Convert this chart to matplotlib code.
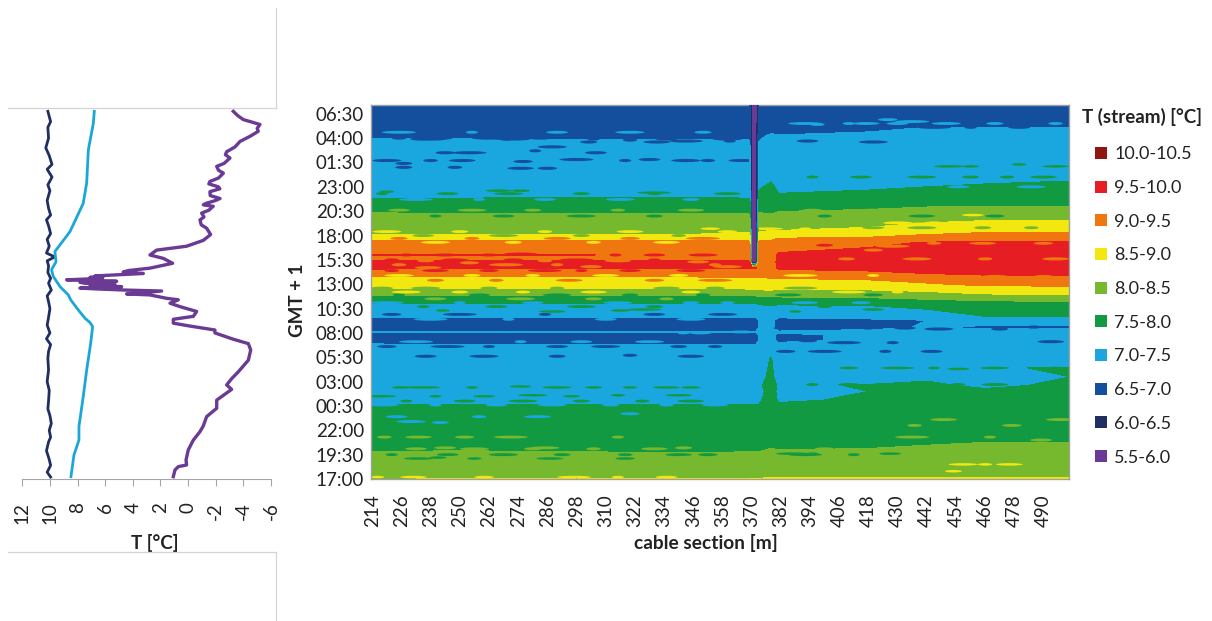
import numpy as np
import matplotlib
matplotlib.use('Agg')
import matplotlib.pyplot as plt
from matplotlib.lines import Line2D
from matplotlib.patches import Ellipse, Patch

plt.rcParams['font.family'] = ['Lato', 'DejaVu Sans']

W, H = 1212, 621

# hours after 17:00 on the first day
time_labels = ['17:00', '19:30', '22:00', '00:30', '03:00', '05:30', '08:00', '10:30',
               '13:00', '15:30', '18:00', '20:30', '23:00', '01:30', '04:00', '06:30']
time_ticks = [2.5 * i for i in range(len(time_labels))]
section_ticks = list(range(214, 491, 12))
temp_ticks = [12, 10, 8, 6, 4, 2, 0, -2, -4, -6]
temp_labels = ['12', '10', '8', '6', '4', '2', '0', '-2', '-4', '-6']

# left panel, three temperature series
air_h = [0.24, 0.92, 1.27, 1.44, 1.95, 2.98, 4.0, 4.86, 5.45, 6.4, 7.26, 8.1, 9.2, 9.66, 10.3, 11.0,
         12.2, 13.25, 13.9, 14.35, 15.0, 15.3, 15.7, 16.0, 16.4, 16.7, 17.2, 17.7, 18.05, 18.4, 18.55,
         18.9, 19.0, 19.3, 19.4, 19.5, 19.6, 19.75, 19.85, 19.9, 20.0, 20.1, 20.2, 20.3, 20.4, 20.45,
         20.6, 20.7, 20.8, 20.85, 21.1, 21.25, 21.4, 21.65, 22.15, 22.65, 23.0, 23.5, 23.9, 24.5, 25.1,
         25.75, 26.1, 26.6, 26.9, 27.3, 27.6, 28.0, 28.15, 28.3, 28.6, 28.8, 29.1, 29.5, 29.8, 30.0,
         30.3, 30.55, 30.9, 31.4, 31.7, 32.1, 32.4, 32.95, 33.3, 33.6, 34.1, 34.65, 35.2, 35.7, 36.0,
         36.4, 36.9, 37.3, 37.75]
air_T = [1.07, 0.95, 0.71, 0.11, 0.15, -0.01, -0.38, -0.86, -1.1, -1.34, -2.07, -2.07, -3.15, -2.79,
         -3.15, -3.63, -4.36, -4.53, -4.36, -3.27, -1.94, -1.94, -0.14, 1.07, 1.07, -0.38, -0.62, 0.59,
         1.31, 0.71, 1.55, 2.76, 4.45, 1.92, 4.57, 6.38, 7.83, 4.81, 6.5, 7.1, 5.3, 7.5, 7.83, 5.17, 7.2,
         8.79, 6.2, 7.1, 6.14, 6.74, 3.24, 4.7, 4.33, 2.76, 1.12, 1.79, 2.76, 2.28, 0.11, -1.1, -1.63,
         -1.34, -0.95, -0.86, -1.15, -0.98, -1.5, -1.82, -1.1, -1.3, -2.0, -2.31, -1.6, -1.58, -2.3, -2.19,
         -1.5, -1.58, -2.2, -2.55, -2.2, -2.07, -2.6, -3.03, -2.7, -2.79, -3.4, -3.75, -4.5, -5.08, -5.0,
         -5.2, -4.0, -3.6, -3.27]

soil_h = [0.24, 2.47, 4.0, 5.38, 8.46, 11.2, 13.94, 15.65, 16.06, 16.5, 17.36, 18.4, 18.9, 19.75, 20.8,
          21.5, 22.3, 23.35, 25.4, 28.3, 30.4, 33.8, 36.5, 37.75]
soil_T = [8.48, 8.26, 7.9, 7.9, 7.59, 7.34, 7.05, 6.91, 7.1, 7.46, 7.95, 8.5, 8.67, 9.27, 9.76, 9.88,
          9.56, 9.64, 8.55, 7.59, 7.34, 7.22, 6.86, 6.79]

ground_h = [0.2, 0.7, 1.4, 2.0, 2.9, 3.8, 4.3, 5.0, 5.7, 6.5, 7.2, 8.0, 9.1, 10.0, 11.2, 12.4, 13.1, 13.8,
            14.4, 15.0, 15.8, 16.6, 17.5, 18.2, 18.8, 19.4, 20.1, 20.6, 21.2, 21.9, 22.4, 22.8, 23.2,
            23.9, 24.6, 25.2, 26.0, 26.6, 27.1, 27.8, 28.6, 29.6, 30.2, 31.0, 31.8, 32.3, 33.2, 34.0,
            35.0, 36.1, 36.7, 37.75]
ground_T = [9.95, 10.2, 9.95, 10.05, 10.25, 10.1, 9.95, 10.05, 9.9, 10.0, 10.15, 10.1, 10.05, 10.2, 10.1,
            10.15, 10.1, 9.95, 10.25, 10.0, 10.2, 10.1, 10.0, 10.1, 10.2, 9.9, 10.1, 9.95, 10.15, 10.1,
            10.2, 9.65, 10.25, 10.05, 10.2, 9.95, 10.1, 10.25, 9.95, 10.1, 10.2, 10.0, 10.15, 9.85, 10.2,
            9.85, 10.05, 10.3, 10.1, 10.15, 9.95, 10.15]

# stream temperature, one row per hour value, one column per cable position
cable_m = [214, 250, 298, 346, 369.3, 373, 378, 381, 418, 442, 466, 501]
row_h = [0.0, 0.3, 1.0, 2.0, 2.7, 3.3, 4.5, 6.0, 7.6, 8.1, 9.0, 9.6, 10.5, 11.4, 12.3, 13.0, 13.7, 14.2,
         14.8, 15.1, 15.5, 16.3, 16.7, 17.8, 18.3, 19.0, 19.5, 20.0, 20.6, 21.1, 21.7, 22.3, 22.7, 23.0,
         23.5, 24.3, 24.7, 25.2, 26.0, 27.2, 28.0, 29.0, 30.0, 31.5, 33.0, 34.5, 35.2, 36.3, 37.0, 38.4]
stream_T = [
    [8.45, 8.55, 8.5, 8.55, 8.55, 8.55, 8.6, 8.6, 8.6, 8.6, 8.6, 8.6],
    [8.35, 8.35, 8.3, 8.35, 8.35, 8.35, 8.4, 8.35, 8.35, 8.35, 8.35, 8.35],
    [8.3, 8.25, 8.2, 8.2, 8.2, 8.2, 8.25, 8.2, 8.25, 8.3, 8.3, 8.3],
    [8.15, 8.1, 8.1, 8.1, 8.1, 8.1, 8.15, 8.1, 8.15, 8.2, 8.2, 8.2],
    [8.02, 8.05, 8.02, 8.0, 8.02, 8.02, 8.15, 8.05, 8.05, 8.1, 8.1, 8.1],
    [7.92, 7.9, 7.9, 7.88, 7.9, 7.9, 7.95, 7.95, 7.98, 8.02, 8.05, 8.05],
    [7.78, 7.75, 7.72, 7.72, 7.75, 7.8, 7.95, 7.78, 7.8, 7.88, 7.92, 7.9],
    [7.6, 7.58, 7.6, 7.6, 7.62, 7.65, 7.8, 7.62, 7.65, 7.7, 7.72, 7.72],
    [7.52, 7.52, 7.52, 7.52, 7.52, 7.52, 7.75, 7.55, 7.58, 7.6, 7.62, 7.65],
    [7.42, 7.42, 7.42, 7.42, 7.42, 7.42, 7.75, 7.45, 7.55, 7.58, 7.6, 7.6],
    [7.35, 7.38, 7.4, 7.4, 7.35, 7.38, 7.65, 7.42, 7.5, 7.55, 7.52, 7.58],
    [7.42, 7.42, 7.42, 7.42, 7.42, 7.42, 7.7, 7.45, 7.52, 7.52, 7.48, 7.52],
    [7.25, 7.25, 7.25, 7.25, 7.25, 7.28, 7.65, 7.25, 7.35, 7.48, 7.5, 7.5],
    [7.2, 7.2, 7.2, 7.2, 7.2, 7.22, 7.6, 7.2, 7.28, 7.42, 7.48, 7.52],
    [7.1, 7.1, 7.1, 7.1, 7.1, 7.12, 7.55, 7.12, 7.2, 7.25, 7.28, 7.3],
    [7.02, 7.02, 7.02, 7.02, 7.02, 7.1, 7.3, 7.04, 7.15, 7.2, 7.2, 7.2],
    [7.05, 7.05, 7.05, 7.05, 7.05, 7.1, 7.15, 7.1, 7.15, 7.15, 7.15, 7.15],
    [6.9, 6.85, 6.85, 6.88, 6.85, 7.05, 7.1, 6.95, 7.05, 7.1, 7.1, 7.1],
    [6.9, 6.88, 6.85, 6.9, 6.88, 7.05, 7.1, 6.95, 7.05, 7.1, 7.1, 7.1],
    [7.02, 7.03, 7.02, 7.03, 7.03, 7.05, 7.1, 7.03, 7.08, 7.1, 7.1, 7.1],
    [6.85, 6.85, 6.85, 6.85, 6.85, 7.05, 7.1, 6.9, 6.95, 7.02, 6.97, 6.97],
    [6.85, 6.85, 6.85, 6.85, 6.85, 7.05, 7.1, 6.85, 6.9, 7.0, 7.05, 7.05],
    [7.05, 7.05, 7.05, 7.05, 7.05, 7.15, 7.2, 7.1, 7.2, 7.3, 7.5, 7.55],
    [7.4, 7.4, 7.4, 7.4, 7.4, 7.45, 7.5, 7.45, 7.5, 7.6, 7.65, 7.7],
    [7.65, 7.65, 7.65, 7.65, 7.65, 7.7, 7.75, 7.75, 7.8, 7.9, 8.0, 8.05],
    [8.15, 8.15, 8.15, 8.1, 8.15, 8.2, 8.2, 8.2, 8.25, 8.35, 8.5, 8.55],
    [8.45, 8.45, 8.45, 8.45, 8.5, 8.55, 8.6, 8.5, 8.55, 8.65, 8.8, 8.85],
    [8.7, 8.7, 8.7, 8.75, 8.75, 8.8, 8.85, 8.8, 8.85, 8.95, 9.1, 9.1],
    [8.9, 8.9, 8.9, 8.92, 8.95, 8.95, 9.0, 9.0, 9.05, 9.2, 9.3, 9.35],
    [9.2, 9.2, 9.2, 9.2, 9.2, 9.15, 9.1, 9.25, 9.35, 9.5, 9.6, 9.6],
    [9.6, 9.55, 9.55, 9.55, 9.55, 9.3, 9.25, 9.6, 9.7, 9.75, 9.8, 9.8],
    [9.6, 9.6, 9.6, 9.55, 9.55, 9.35, 9.3, 9.6, 9.7, 9.8, 9.8, 9.8],
    [9.35, 9.35, 9.35, 9.35, 9.35, 9.35, 9.3, 9.55, 9.65, 9.7, 9.75, 9.75],
    [9.55, 9.55, 9.52, 9.4, 9.4, 9.35, 9.3, 9.55, 9.6, 9.7, 9.7, 9.7],
    [9.3, 9.3, 9.3, 9.3, 9.3, 9.3, 9.25, 9.45, 9.55, 9.6, 9.6, 9.6],
    [9.1, 9.1, 9.1, 9.1, 9.1, 9.1, 9.1, 9.15, 9.4, 9.52, 9.55, 9.55],
    [8.85, 8.85, 8.85, 8.85, 8.85, 8.85, 8.9, 9.02, 9.1, 9.2, 9.3, 9.3],
    [8.45, 8.45, 8.45, 8.45, 8.55, 8.55, 8.6, 8.6, 8.7, 8.95, 9.05, 9.05],
    [8.3, 8.25, 8.25, 8.25, 8.3, 8.3, 8.35, 8.35, 8.45, 8.6, 8.7, 8.7],
    [8.05, 8.02, 8.02, 8.02, 8.02, 8.05, 8.0, 8.1, 8.15, 8.2, 8.25, 8.25],
    [7.75, 7.75, 7.75, 7.75, 7.75, 7.8, 7.75, 7.8, 7.9, 7.98, 8.0, 8.0],
    [7.45, 7.45, 7.48, 7.48, 7.45, 7.6, 7.7, 7.55, 7.6, 7.7, 7.75, 7.75],
    [7.35, 7.35, 7.35, 7.35, 7.35, 7.45, 7.6, 7.4, 7.45, 7.5, 7.55, 7.6],
    [7.25, 7.25, 7.25, 7.25, 7.25, 7.25, 7.3, 7.2, 7.25, 7.3, 7.3, 7.35],
    [7.15, 7.15, 7.15, 7.15, 7.15, 7.15, 7.15, 7.15, 7.2, 7.2, 7.2, 7.2],
    [7.05, 7.05, 7.05, 7.05, 7.05, 7.02, 7.05, 7.1, 7.15, 7.15, 7.15, 7.15],
    [6.98, 6.97, 6.95, 6.95, 6.95, 6.95, 7.05, 7.02, 7.1, 7.1, 7.1, 7.1],
    [6.75, 6.75, 6.75, 6.75, 6.75, 6.8, 6.85, 6.85, 6.85, 6.98, 6.97, 6.97],
    [6.65, 6.65, 6.65, 6.65, 6.65, 6.7, 6.75, 6.75, 6.75, 6.8, 6.85, 6.85],
    [6.6, 6.6, 6.6, 6.6, 6.6, 6.6, 6.65, 6.65, 6.65, 6.7, 6.7, 6.7],
]

# the cold probe section of the cable, hot end up to the top of the plot
spike_m = [370.2, 371.8]
spike_T = 5.6
spike_from_h = 22.3

levels = [5.5, 6.0, 6.5, 7.0, 7.5, 8.0, 8.5, 9.0, 9.5, 10.0, 10.5]
band_labels = ['5.5-6.0', '6.0-6.5', '6.5-7.0', '7.0-7.5', '7.5-8.0',
               '8.0-8.5', '8.5-9.0', '9.0-9.5', '9.5-10.0', '10.0-10.5']
band_colors = ['#6a3a94', '#1f2f63', '#134f9c', '#1aa7e0', '#129a43',
               '#76b82e', '#f2e70f', '#f0760f', '#e61e24', '#8f1611']

# small patches: position on the cable and hours
blue_m = [225, 235, 243, 262, 269, 283, 288, 303, 320, 331, 244, 254, 281, 306, 220, 227, 238, 251, 276, 298,
          318, 328, 343, 227, 248, 275, 286, 343, 361, 393, 420, 343, 352, 366, 383, 398, 418, 433, 447, 472,
          486, 493, 393, 408, 428, 236, 260, 290, 320, 345, 384, 400, 425, 444]
blue_h = [35.0, 34.9, 35.0, 35.0, 34.9, 35.0, 34.1, 34.6, 34.8, 34.6, 33.5, 33.5, 33.7, 33.5, 32.7, 32.4,
          32.7, 32.7, 32.6, 32.8, 32.7, 32.8, 32.7, 32.0, 32.0, 31.9, 31.9, 34.7, 34.7, 34.7, 34.6, 32.7,
          32.7, 32.7, 15.5, 15.5, 15.5, 15.5, 15.4, 15.4, 15.6, 14.1, 14.2, 14.0, 14.0, 12.6, 12.6, 12.6,
          12.7, 12.6, 13.1, 13.1, 13.1, 13.1]
cyan_m = [397, 417, 426, 436, 342, 349, 366, 395, 410, 425, 444, 455, 480, 224, 230, 242, 258, 282, 320, 395, 470]
cyan_h = [36.4, 36.5, 36.9, 36.7, 15.0, 15.0, 15.1, 15.0, 14.6, 15.0, 14.9, 15.0, 15.0, 6.4, 5.9, 5.8, 6.4, 6.4,
          6.7, 9.6, 9.8]
green_m = [220, 266, 275, 330, 400, 415, 451, 460, 480, 495, 226, 235, 255, 275, 290, 305, 320, 335, 345,
           217, 240, 260, 280, 296, 315, 340, 410, 430, 445, 455, 470, 495, 243, 288, 316, 326, 388, 420,
           233, 241, 256, 287, 318, 387, 395, 427]
green_h = [29.5, 29.6, 29.6, 29.4, 29.2, 29.3, 32.1, 32.1, 32.3, 32.1, 9.4, 9.4, 9.4, 9.5, 9.4, 9.4, 9.4, 9.4,
           9.4, 8.5, 8.5, 8.5, 8.6, 8.5, 8.6, 8.6, 11.4, 11.4, 11.4, 11.3, 11.4, 11.4, 17.3, 17.2, 17.3, 17.4,
           17.2, 17.4, 2.1, 2.2, 2.1, 2.1, 2.1, 2.6, 2.6, 2.6]
light_m = [219, 233, 252, 271, 315, 244, 285, 342, 437, 449, 477, 436, 468, 489, 497]
light_h = [4.3, 4.3, 4.3, 4.3, 4.3, 3.2, 3.2, 3.2, 5.5, 6.1, 5.5, 4.3, 4.3, 4.0, 6.1]
yellow_m = [216, 231, 260, 297, 315, 335, 457, 453, 466, 476, 353, 376, 392, 461, 440, 480]
yellow_h = [0.2, 0.2, 0.2, 0.2, 0.2, 0.2, 1.5, 0.8, 1.5, 1.5, 25.7, 25.7, 25.7, 27.1, 26.2, 26.4]
orange_m = [225, 237, 254, 269, 290, 304, 438, 409, 466, 495, 420, 428, 355, 348, 360]
orange_h = [22.0, 21.7, 22.2, 22.0, 22.0, 21.8, 22.6, 22.6, 22.6, 22.6, 23.5, 23.9, 22.0, 22.3, 21.8]
red_m = [228, 244, 262, 275, 314, 330, 350, 400]
red_h = [23.0, 23.0, 23.0, 23.1, 23.0, 23.0, 23.0, 24.0]

# ragged edges between the bands: hour, band index, positions along the cable
edge_h = [2.5, 3.1, 7.6, 8.0, 13.6, 14.1, 16.9, 16.4, 18.1, 17.7, 18.9, 18.5, 19.6, 19.2, 20.9, 20.4, 21.4,
          22.5, 22.4, 24.7, 24.3, 25.4, 25.0, 27.6, 27.0, 29.3, 28.7, 35.6, 34.9, 31.0, 30.0, 36.5, 36.1,
          26.3, 25.8, 24.2, 20.8, 9.7, 10.2]
edge_band = [4, 5, 3, 4, 2, 3, 2, 3, 3, 4, 4, 5, 5, 6, 6, 7, 8, 8, 7, 7, 6, 6, 5, 5, 4, 4, 3, 3, 2, 4, 3, 3, 2,
             6, 5, 7, 7, 4, 3]
edge_m = [[222, 245, 268, 292, 318, 340, 352, 392, 412], [232, 256, 280, 305, 330, 400],
          [218, 240, 265, 288, 312, 335, 355], [228, 252, 276, 300, 325, 345],
          [220, 245, 262, 290, 310, 340, 355], [232, 275, 300, 328],
          [222, 250, 285, 330, 358], [238, 270, 310, 345],
          [220, 250, 280, 315, 345, 360, 392, 415], [235, 265, 300, 330, 400],
          [225, 258, 290, 320, 350, 385, 420], [240, 275, 305, 335],
          [218, 236, 262, 290, 335, 355, 390], [228, 250, 276, 305, 345, 410, 430],
          [225, 255, 280, 310, 340, 390, 420], [240, 265, 295, 330, 355],
          [222, 240, 262, 285, 300, 320, 345],
          [222, 248, 272, 298, 330], [236, 285, 315],
          [225, 255, 290, 320, 350, 392, 425], [240, 272, 305, 335],
          [220, 250, 285, 320, 360, 395, 415], [235, 268, 300, 340],
          [225, 255, 280, 315, 345, 395, 420, 450, 480], [240, 268, 300, 330, 400, 440, 470],
          [218, 245, 270, 300, 330, 360], [232, 258, 285, 316, 345],
          [225, 255, 290, 320, 350], [240, 272, 305, 335, 360],
          [395, 415, 440, 460, 475, 490], [410, 430, 455, 485],
          [392, 410, 430, 450, 470, 495], [420, 445, 460, 480],
          [430, 445, 460, 475, 490], [420, 440, 465, 485],
          [425, 445, 465, 490], [430, 450, 470, 490],
          [395, 410, 425, 440, 455, 470, 490], [400, 420, 450, 480]]

spot_widths = [6, 11, 8, 14, 5, 9, 12, 7]

x_m = np.array(cable_m)
field = np.array(stream_T)
row_hours = np.array(row_h)
spike_col = np.where(row_hours >= spike_from_h, spike_T, field[:, 4])
x_all = np.insert(x_m, 5, spike_m)
field_all = np.insert(field, 5, spike_col, axis=1)
field_all = np.insert(field_all, 6, spike_col, axis=1)


def px_axes(x0, y0, x1, y1):
    return fig.add_axes([x0 / W, 1 - y1 / H, (x1 - x0) / W, (y1 - y0) / H])


fig = plt.figure(figsize=(W / 100, H / 100), dpi=100)

# left panel
ax1 = px_axes(22.3, 105, 271, 479)
ax1.plot(ground_T, ground_h, color='#1f2f63', lw=2)
ax1.plot(soil_T, soil_h, color='#1aa7d8', lw=2)
ax1.plot(air_T, air_h, color='#6a3a94', lw=2.4)
ax1.set_xlim(12, -6)
ax1.set_ylim(0, 38.4)
ax1.set_xticks(temp_ticks)
ax1.set_xticklabels(temp_labels)
ax1.set_yticks([])
for s in ['top', 'left', 'right']:
    ax1.spines[s].set_visible(False)
ax1.spines['bottom'].set_color('#a6a6a6')
ax1.tick_params(axis='x', length=5, color='#a6a6a6', pad=12, labelsize=13.5, labelrotation=90, labelcolor='#222222')
ax1.set_xlabel('T [°C]', fontweight='bold', fontsize=13.5, color='#222222')
ax1.xaxis.set_label_coords(0.534, -0.147)

# map of the stream temperature
ax2 = px_axes(371, 105, 1069, 479)
ax2.contourf(x_all, row_hours, field_all, levels=levels, colors=band_colors)
spots = [(blue_m, blue_h, 2, 0.32), (cyan_m, cyan_h, 3, 0.3), (green_m, green_h, 4, 0.26),
         (light_m, light_h, 5, 0.3), (yellow_m, yellow_h, 6, 0.26), (orange_m, orange_h, 7, 0.32),
         (red_m, red_h, 8, 0.3)]
for ms, hs, band, h in spots:
    for i, (m, t) in enumerate(zip(ms, hs)):
        w = spot_widths[i % len(spot_widths)]
        ax2.add_patch(Ellipse((m, t), w, h, color=band_colors[band], lw=0))
for t, band, ms in zip(edge_h, edge_band, edge_m):
    for i, m in enumerate(ms):
        w = spot_widths[(i + band) % len(spot_widths)]
        ax2.add_patch(Ellipse((m, t), w, 0.3, color=band_colors[band], lw=0))
# probe section stays on top of the patches
ax2.contourf(x_all[4:8], row_hours, field_all[:, 4:8], levels=levels, colors=band_colors, zorder=3)
ax2.set_xlim(213.5, 500.5)
ax2.set_ylim(0, 38.4)
ax2.set_xticks(section_ticks)
ax2.set_yticks(time_ticks)
ax2.set_yticklabels(time_labels)
ax2.tick_params(axis='both', length=0, labelsize=13.5, labelcolor='#222222')
ax2.tick_params(axis='x', labelrotation=90, pad=11)
ax2.tick_params(axis='y', pad=5)
for s in ['left', 'top', 'bottom', 'right']:
    ax2.spines[s].set_color('#a0a0a0')
    ax2.spines[s].set_linewidth(1)
ax2.set_xlabel('cable section [m]', fontweight='bold', fontsize=13.8, color='#222222')
ax2.xaxis.set_label_coords(0.48, -0.147)
ax2.set_ylabel('GMT + 1', fontweight='bold', fontsize=13.5, color='#222222')
ax2.yaxis.set_label_coords(-0.093, 0.479)

# legend, warmest band on top
fig.text(1082 / W, 1 - 117 / H, 'T (stream) [°C]', fontweight='bold', fontsize=13.5, color='#222222', va='center')
handles = [Patch(facecolor=c, label=l) for c, l in zip(band_colors[::-1], band_labels[::-1])]
leg = fig.legend(handles=handles, loc='upper left', bbox_to_anchor=(1079 / W, 1 - 130 / H), frameon=False,
                 fontsize=13, labelspacing=0.98, handlelength=0.64, handleheight=0.64, handletextpad=0.4,
                 borderpad=0.4)
for t in leg.get_texts():
    t.set_color('#222222')

# leftovers of the cropped panel frame
gray = '#d4d4d4'
for xs, ys in [([8, 276], [108, 108]), ([276, 276], [8, 108]), ([8, 276], [552, 552]), ([276, 276], [552, 621])]:
    fig.add_artist(Line2D([x / W for x in xs], [1 - y / H for y in ys], color=gray, lw=0.9))

fig.savefig('out.png', dpi=100)
